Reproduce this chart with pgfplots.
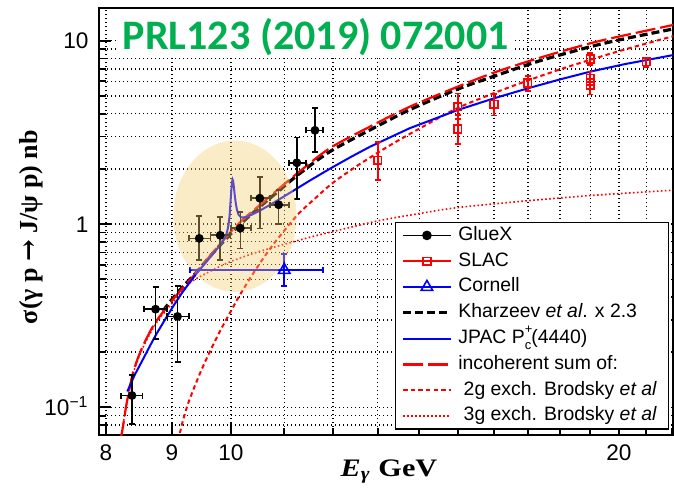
\documentclass[border=0pt]{standalone}
\usepackage{fontspec}
\setmainfont{Liberation Sans}
\newfontfamily\timesfont{Liberation Serif}
\newfontfamily\calibrifont{Carlito}
\newfontfamily\dejavuserif{DejaVu Serif}
\usepackage{graphicx}
\usepackage{pgfplots}
\usepackage{pgfplotstable}
\pgfplotsset{compat=1.18}
\definecolor{prlgreen}{RGB}{0,176,80}
\definecolor{ellcol}{RGB}{245,205,110}

\pgfplotstableread{
x y exm exp eym eyp
8.38 0.116 0.16 0.16 0.035 0.034
8.74 0.343 0.18 0.18 0.107 0.109
9.09 0.313 0.17 0.19 0.136 0.146
9.45 0.835 0.17 0.19 0.199 0.271
9.81 0.868 0.17 0.17 0.232 0.228
10.17 0.949 0.17 0.19 0.212 0.214
10.53 1.383 0.16 0.19 0.436 0.427
10.89 1.274 0.17 0.20 0.274 0.259
11.25 2.158 0.16 0.18 0.788 0.800
11.62 3.245 0.18 0.17 0.765 1.035
}\gluex

\pgfplotstableread{
x y eym eyp
13.0 2.23 0.49 0.58
15.0 4.36 0.63 0.80
15.0 3.30 0.57 0.63
16.0 4.51 0.61 0.61
17.0 5.88 0.55 0.52
19.0 7.95 0.55 0.60
19.0 6.25 0.50 0.55
19.0 5.72 0.62 0.45
21.0 7.68 0.48 0.42
}\slac

\pgfplotstableread{
x y exm exp eym eyp
11.0 0.561 1.70 0.79 0.102 0.125
}\cornell

\pgfplotstableread{
x y
8.21 0.066
8.25 0.080
8.29 0.100
8.34 0.125
8.39 0.152
8.46 0.182
8.54 0.214
8.65 0.257
8.75 0.295
8.93 0.356
9.12 0.427
9.39 0.538
9.65 0.680
9.92 0.853
10.19 1.040
10.53 1.270
10.92 1.580
11.30 1.930
11.93 2.590
12.82 3.400
13.76 4.360
15.0 5.620
16.0 6.700
17.34 8.050
19.0 9.680
20.2 10.70
22.05 12.20
}\sumc

\pgfplotstableread{
x y
8.86 0.335
8.93 0.362
9.12 0.433
9.39 0.540
9.65 0.675
9.92 0.835
10.19 1.010
10.53 1.240
10.92 1.540
11.30 1.880
11.93 2.480
12.82 3.260
13.76 4.200
15.0 5.450
16.0 6.400
17.34 7.750
19.0 9.270
20.2 10.25
22.05 11.60
}\khar

\pgfplotstableread{
x y
8.31 0.122
8.42 0.150
8.54 0.181
8.65 0.215
8.75 0.250
8.90 0.305
9.03 0.360
9.15 0.415
9.28 0.475
9.40 0.535
9.50 0.585
9.62 0.650
9.72 0.710
9.80 0.760
9.86 0.810
9.90 0.850
9.93 0.900
9.955 0.980
9.975 1.100
9.99 1.280
10.005 1.500
10.02 1.700
10.03 1.750
10.04 1.720
10.055 1.580
10.07 1.420
10.09 1.280
10.11 1.190
10.14 1.120
10.18 1.090
10.22 1.085
10.31 1.100
10.50 1.170
10.72 1.270
10.95 1.390
11.18 1.520
11.52 1.730
11.93 2.000
12.40 2.330
12.82 2.640
13.76 3.330
15.0 4.190
16.0 4.850
17.0 5.500
18.0 6.150
19.0 6.780
20.2 7.450
22.05 8.360
}\jpac

\pgfplotstableread{
x y
9.10 0.066
9.18 0.085
9.26 0.104
9.36 0.127
9.48 0.158
9.62 0.198
9.80 0.258
10.00 0.335
10.13 0.395
10.30 0.480
10.53 0.610
10.78 0.770
11.04 0.950
11.30 1.150
11.65 1.400
12.0 1.680
12.52 2.070
13.0 2.450
13.5 2.870
14.2 3.500
15.0 4.300
16.0 5.180
17.0 6.070
18.0 6.970
19.0 7.870
20.2 8.950
22.05 10.60
}\twog

\pgfplotstableread{
x y
8.21 0.066
8.29 0.100
8.39 0.150
8.54 0.210
8.75 0.288
8.93 0.345
9.12 0.410
9.30 0.480
9.65 0.555
10.0 0.625
10.5 0.705
11.0 0.775
11.5 0.845
12.0 0.910
13.0 1.040
14.0 1.140
15.0 1.230
17.0 1.340
19.0 1.430
22.05 1.530
}\threeg

\begin{document}
\begin{tikzpicture}
\begin{axis}[
  name=ax,
  scale only axis, width=287pt, height=213.35pt,
  xmode=log, ymode=log,
  xmin=7.901, xmax=22.03, ymin=0.07062, ymax=15.03,
  xtick={8,9,10,20}, xticklabels={8,9,10,20},
  minor xtick={11,12,13,14,15,16,17,18,19,21,22},
  ytick={0.1,1,10}, yticklabels={10\textsuperscript{−1},1,10},
  minor ytick={0.08,0.09,0.2,0.3,0.4,0.5,0.6,0.7,0.8,0.9,2,3,4,5,6,7,8,9},
  grid=both,
  major grid style={black, line width=0.65pt, dash pattern=on 0.65pt off 1.35pt},
  minor grid style={black, line width=0.65pt, dash pattern=on 0.65pt off 1.35pt},
  tick pos=left, tick align=inside,
  major tick length=6pt, minor tick length=3.5pt,
  tick style={black, line width=0.9pt},
  axis line style={line width=1pt},
  tick label style={font=\fontsize{11.3}{13}\selectfont},
  xticklabel style={yshift=-1.2pt},
  yticklabel style={anchor=base east, xshift=-1.7pt, yshift=-4pt},
  xlabel={\scalebox{1.2}[1]{\timesfont\bfseries\fontsize{12.6}{15}\selectfont\itshape E\textsubscript{γ}\upshape\ GeV}},
  xlabel style={at={(rel axis cs:0.5052,-0.0961)}, anchor=base},
  ylabel={\timesfont\bfseries\fontsize{13}{15}\selectfont σ(γ p {\dejavuserif\bfseries →} J/ψ p) nb},
  ylabel style={at={(rel axis cs:-0.1172,0.487)}, anchor=center},
  legend image code/.code={\draw[mark repeat=2,mark phase=2,#1] plot coordinates {(0pt,0pt) (11.9pt,0pt) (23.8pt,0pt)};},
  legend cell align=left,
  legend style={at={(rel axis cs:1,0)}, anchor=south east, xshift=-1.8pt, yshift=2.75pt,
    draw=black, line width=0.6pt, fill=white, inner xsep=3pt, inner ysep=2pt, row sep=4pt,
    font=\fontsize{9.7}{11}\selectfont,
    nodes={inner xsep=3pt, inner ysep=0pt, text height=6.9pt, text depth=2pt}},
]
\addplot[forget plot, red, line width=0.8pt, dash pattern=on 0.8pt off 1.2pt, smooth] table {\threeg};
\addplot[forget plot, red, line width=1pt, dash pattern=on 2.2pt off 1.6pt, smooth] table {\twog};
\addplot[forget plot, black, line width=1.6pt, dash pattern=on 4pt off 2pt, smooth] table {\khar};
\addplot[forget plot, red, line width=1.1pt, dash pattern=on 10pt off 2.5pt, smooth] table {\sumc};
\addplot[forget plot, blue, line width=1pt] table {\jpac};

\addplot[forget plot, only marks, mark=square, mark size=1.9pt, red, line width=0.8pt, mark options={fill=white},
  error bars/.cd, y dir=both, y explicit,
  error bar style={line width=0.8pt, red},
  error mark options={rotate=90, line width=0.8pt, mark size=1.5pt, red}]
  table[x=x, y=y, y error plus=eyp, y error minus=eym] {\slac};

\addplot[forget plot, only marks, mark=triangle, mark size=3.3pt, blue, line width=0.8pt, mark options={fill=white},
  error bars/.cd, x dir=both, x explicit, y dir=both, y explicit,
  error bar style={line width=0.8pt, blue},
  error mark options={rotate=90, line width=0.8pt, mark size=1.5pt, blue}]
  table[x=x, y=y, x error plus=exp, x error minus=exm, y error plus=eyp, y error minus=eym] {\cornell};

\addplot[forget plot, only marks, mark=*, mark size=2pt, black,
  error bars/.cd, x dir=both, x explicit, y dir=both, y explicit,
  error bar style={line width=0.8pt, black},
  error mark options={rotate=90, line width=0.8pt, mark size=1.5pt, black}]
  table[x=x, y=y, x error plus=exp, x error minus=exm, y error plus=eyp, y error minus=eym] {\gluex};

\fill[ellcol, fill opacity=0.38] (axis cs:10.072,1.103) ellipse [x radius=30.8pt, y radius=37.8pt];

\node[anchor=base west, fill=white, inner xsep=3pt, inner ysep=0pt, text height=19.8pt, text depth=3pt,
  text=prlgreen, font=\calibrifont\bfseries\fontsize{21}{25}\selectfont, xshift=8.75pt, yshift=-20.5pt]
  at (rel axis cs:0,1) {PRL123 (2019) 072001};

\addlegendimage{black, line width=0.8pt, mark=*, mark size=2pt}
\addlegendentry{GlueX}
\addlegendimage{red, line width=0.8pt, mark=square, mark size=1.9pt, mark options={fill=white}}
\addlegendentry{SLAC}
\addlegendimage{blue, line width=0.8pt, mark=triangle, mark size=3.3pt, mark options={fill=white}}
\addlegendentry{Cornell}
\addlegendimage{black, line width=1.6pt, dash pattern=on 4pt off 2pt}
\addlegendentry{Kharzeev \textit{et al}. x 2.3}
\addlegendimage{blue, line width=1pt}
\addlegendentry{JPAC P\rlap{\raisebox{0.5em}{\fontsize{6.5}{7}\selectfont +}}\raisebox{-0.32em}{\fontsize{6.5}{7}\selectfont c}(4440)}
\addlegendimage{red, line width=1.1pt, dash pattern=on 10pt off 2.5pt}
\addlegendentry{incoherent sum of:}
\addlegendimage{red, line width=1pt, dash pattern=on 2.2pt off 1.6pt}
\addlegendentry{\ 2g exch. Brodsky \textit{et al}}
\addlegendimage{red, line width=0.8pt, dash pattern=on 0.8pt off 1.2pt}
\addlegendentry{\ 3g exch. Brodsky \textit{et al}}
\end{axis}
\pgfresetboundingbox
\path ([xshift=-49.5pt,yshift=-27pt]ax.south west) rectangle ([xshift=0.5pt,yshift=4.15pt]ax.north east);
\end{tikzpicture}
\end{document}
